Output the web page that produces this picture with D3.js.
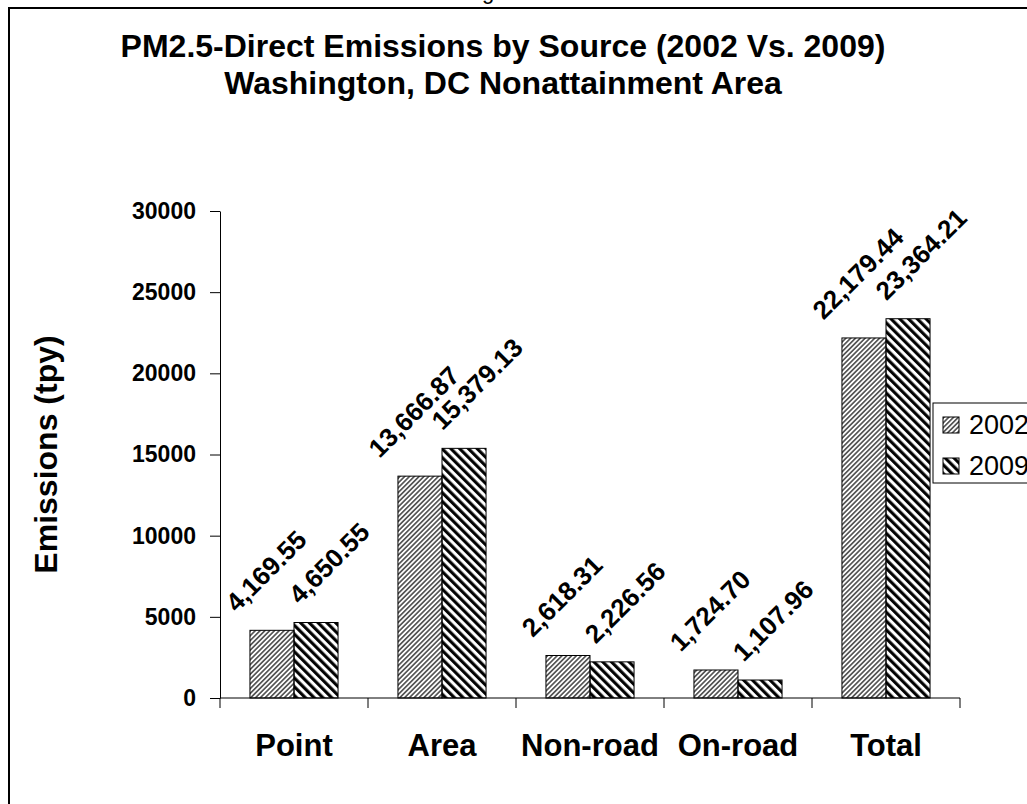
<html>
<head>
<meta charset="utf-8">
<title>PM2.5-Direct Emissions by Source</title>
<style>
  body { margin: 0; background: #fff; }
  text { font-family: "Liberation Sans", Arial, sans-serif; font-weight: bold; fill: #000; }
</style>
</head>
<body>
<script src="https://cdn.jsdelivr.net/npm/d3@7"></script>
<script>

// data
var categories = ["Point", "Area", "Non-road", "On-road", "Total"];
var years = ["2002", "2009"];
var values2002 = [4169.55, 13666.87, 2618.31, 1724.70, 22179.44];
var values2009 = [4650.55, 15379.13, 2226.56, 1107.96, 23364.21];
var yTicks = [0, 5000, 10000, 15000, 20000, 25000, 30000];

var width = 1027;
var height = 804;

var svg = d3.select("body").append("svg")
    .attr("width", width)
    .attr("height", height);

// hatch patterns
var defs = svg.append("defs");
defs.append("pattern")
    .attr("id", "hatch2002")
    .attr("patternUnits", "userSpaceOnUse")
    .attr("width", 3.4).attr("height", 3.4)
    .attr("patternTransform", "rotate(45)")
  .append("line")
    .attr("x1", 0.85).attr("y1", 0).attr("x2", 0.85).attr("y2", 3.4)
    .attr("stroke", "#222").attr("stroke-width", 1.3);
defs.append("pattern")
    .attr("id", "hatch2009")
    .attr("patternUnits", "userSpaceOnUse")
    .attr("width", 6.2).attr("height", 6.2)
    .attr("patternTransform", "rotate(-45)")
  .append("line")
    .attr("x1", 1.6).attr("y1", 0).attr("x2", 1.6).attr("y2", 6.2)
    .attr("stroke", "#000").attr("stroke-width", 3.1);
var fills = { "2002": "url(#hatch2002)", "2009": "url(#hatch2009)" };

// frame of the chart (cut off at right and bottom)
svg.append("rect")
    .attr("x", 9).attr("y", 8)
    .attr("width", 1100).attr("height", 900)
    .attr("fill", "none").attr("stroke", "#000").attr("stroke-width", 2);

// piece of the heading above the chart
svg.append("text")
    .attr("x", 482).attr("y", -1)
    .style("font-weight", "normal")
    .style("font-size", "22px")
    .text("g");

// title
var title = svg.append("text")
    .attr("text-anchor", "middle")
    .style("font-size", "32px");
title.append("tspan").attr("x", 503).attr("y", 57)
    .text("PM2.5-Direct Emissions by Source (2002 Vs. 2009)");
title.append("tspan").attr("x", 503).attr("y", 94)
    .text("Washington, DC Nonattainment Area");

// scales
var x = d3.scaleBand().domain(categories).range([220, 960]);
var xSub = d3.scaleBand().domain(years).range([0, x.bandwidth()]).paddingOuter(0.68);
var y = d3.scaleLinear().domain([0, 30000]).range([698, 211]);

// y axis
var yAxis = svg.append("g")
    .attr("transform", "translate(220,0)")
    .call(d3.axisLeft(y).tickValues(yTicks).tickFormat(d3.format("d"))
        .tickSize(10).tickSizeOuter(0).tickPadding(14));
yAxis.selectAll("text").style("font-size", "23px");
yAxis.selectAll("line, path").attr("stroke", "#000");

// x axis line and ticks between categories
svg.append("line")
    .attr("x1", 220).attr("x2", 960)
    .attr("y1", y(0)).attr("y2", y(0))
    .attr("stroke", "#000");
var bounds = categories.map(function(c){ return x(c); }).concat([x.range()[1]]);
svg.selectAll(".xtick").data(bounds).enter().append("line")
    .attr("class", "xtick")
    .attr("x1", function(d){ return d; }).attr("x2", function(d){ return d; })
    .attr("y1", y(0)).attr("y2", y(0) + 10)
    .attr("stroke", "#000");
svg.selectAll(".xlabel").data(categories).enter().append("text")
    .attr("class", "xlabel")
    .attr("x", function(d){ return x(d) + x.bandwidth() / 2; })
    .attr("y", 756)
    .attr("text-anchor", "middle")
    .style("font-size", "31px")
    .text(function(d){ return d; });

// y axis title
svg.append("text")
    .attr("transform", "translate(57," + (y(15000)) + ") rotate(-90)")
    .attr("text-anchor", "middle")
    .style("font-size", "32px")
    .text("Emissions (tpy)");

// bars
var rows = [];
categories.forEach(function(c, i){
    rows.push({ cat: c, year: "2002", value: values2002[i] });
    rows.push({ cat: c, year: "2009", value: values2009[i] });
});

svg.selectAll(".bar").data(rows).enter().append("rect")
    .attr("class", "bar")
    .attr("x", function(d){ return x(d.cat) + xSub(d.year); })
    .attr("y", function(d){ return y(d.value); })
    .attr("width", xSub.bandwidth())
    .attr("height", function(d){ return y(0) - y(d.value); })
    .attr("fill", function(d){ return fills[d.year]; })
    .attr("stroke", "#000")
    .attr("stroke-width", 1);

// value labels, rotated 45 degrees and sitting above each bar
var fmt = d3.format(",.2f");
var labelSize = 26;
var labelShift = { "2002": -6, "2009": 13 };
svg.selectAll(".val").data(rows).enter().append("text")
    .attr("class", "val")
    .attr("text-anchor", "middle")
    .attr("dy", "0.35em")
    .style("font-size", labelSize + "px")
    .text(function(d){ return fmt(d.value); })
    .attr("transform", function(d){
        var len = this.getComputedTextLength();
        var half = (len + 0.72 * labelSize) / (2 * Math.SQRT2);
        var cx = x(d.cat) + xSub(d.year) + xSub.bandwidth() / 2 + labelShift[d.year];
        var cy = y(d.value) - 17 - half;
        return "translate(" + cx + "," + cy + ") rotate(-45)";
    });

// legend
var legend = svg.append("g").attr("transform", "translate(933,403)");
legend.append("rect")
    .attr("width", 120).attr("height", 80)
    .attr("fill", "#fff").attr("stroke", "#000").attr("stroke-width", 1);
var items = legend.selectAll(".item").data(years).enter().append("g")
    .attr("class", "item")
    .attr("transform", function(d, i){ return "translate(10," + (14 + i * 41) + ")"; });
items.append("rect")
    .attr("width", 16).attr("height", 16)
    .attr("fill", function(d){ return fills[d]; })
    .attr("stroke", "#000");
items.append("text")
    .attr("x", 26).attr("y", 17)
    .style("font-weight", "normal")
    .style("font-size", "27px")
    .text(function(d){ return d; });

</script>
</body>
</html>
